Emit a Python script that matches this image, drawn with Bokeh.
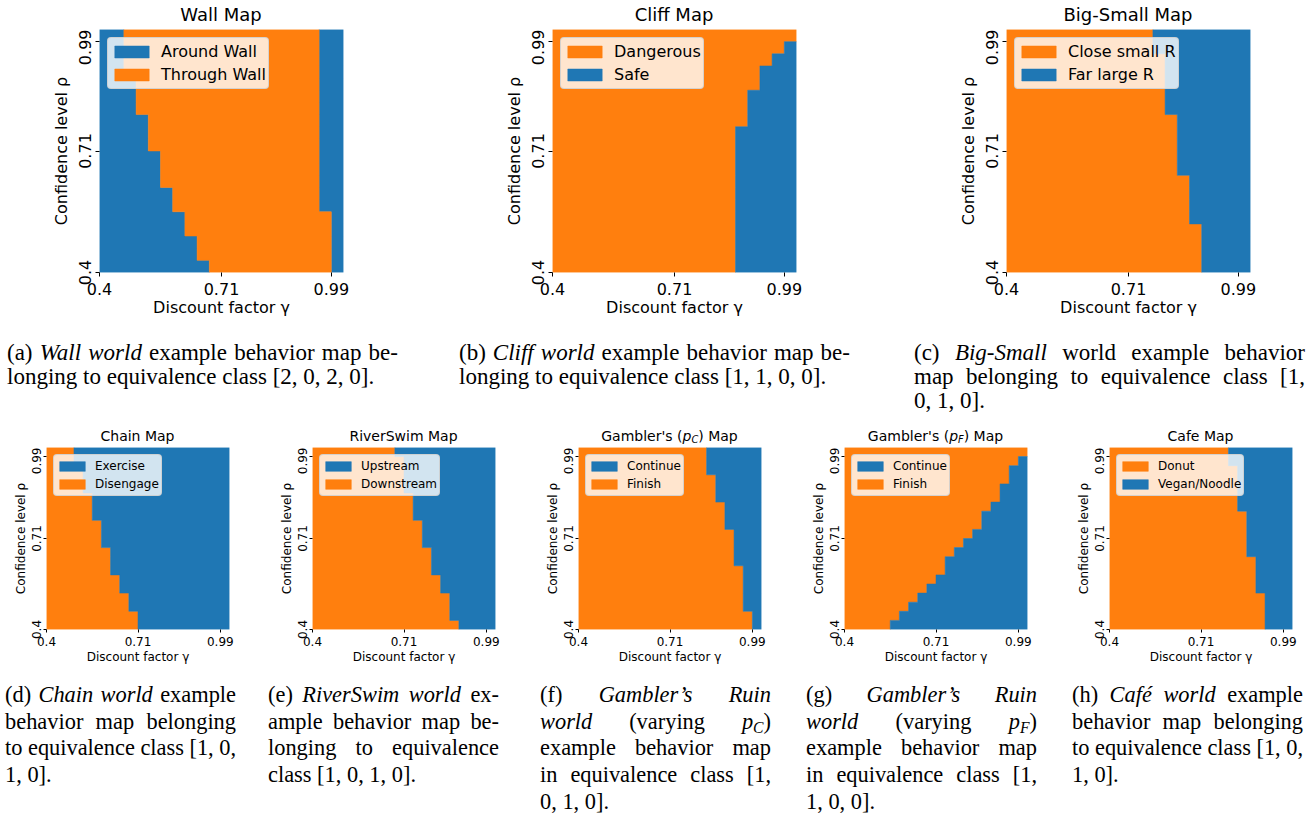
import re
from bokeh.plotting import figure
from bokeh.models import Range1d, FixedTicker, Legend, LegendItem, Div, Spacer, ColumnDataSource
from bokeh.layouts import column, row
from bokeh.embed import file_html
from bokeh.resources import INLINE

BLUE = "#1f77b4"
ORANGE = "#ff7f0e"
FONT = "DejaVu Sans"
SERIF = "Liberation Serif"

N_CELLS = 20
tick_index = [0, 10, 19]
tick_labels = ["0.4", "0.71", "0.99"]
x_label = "Discount factor γ"
y_label = "Confidence level ρ"

# per-row (bottom row first) column index where a behaviour region starts / ends
wall_around_left_end = [9, 8, 8, 7, 7, 6, 6, 5, 5, 5, 4, 4, 4, 3, 3, 3, 2, 2, 2, 2]
wall_around_right_start = [19, 19, 19, 19, 19, 18, 18, 18, 18, 18, 18, 18, 18, 18, 18, 18, 18, 18, 18, 18]
cliff_safe_start = [15, 15, 15, 15, 15, 15, 15, 15, 15, 15, 15, 15, 16, 16, 16, 17, 17, 18, 19, 20]
bigsmall_far_start = [16, 16, 16, 16, 15, 15, 15, 15, 14, 14, 14, 14, 14, 13, 13, 13, 13, 13, 12, 12]
chain_exercise_start = [10, 10, 9, 9, 8, 8, 7, 7, 7, 6, 6, 6, 5, 5, 5, 4, 4, 4, 3, 3]
river_upstream_start = [16, 15, 15, 15, 14, 14, 13, 13, 13, 12, 12, 12, 11, 11, 11, 10, 10, 10, 10, 9]
gpc_continue_start = [19, 19, 18, 18, 18, 18, 18, 17, 17, 17, 17, 16, 16, 16, 15, 15, 15, 14, 14, 14]
gpf_continue_start = [5, 6, 7, 8, 9, 10, 11, 11, 12, 13, 14, 15, 15, 16, 17, 17, 18, 18, 19, 20]
cafe_vegan_start = [17, 17, 17, 17, 16, 16, 16, 16, 15, 15, 15, 15, 15, 14, 14, 14, 14, 14, 13, 13]

ZEROS = [0] * N_CELLS
FULL = [N_CELLS] * N_CELLS


def staircase(starts, ends):
    """Outline of the cells [starts[r], ends[r]) of each row r (rows contiguous)."""
    rows = [r for r in range(N_CELLS) if ends[r] > starts[r]]
    xs, ys = [], []
    for r in rows:
        xs += [ends[r], ends[r]]
        ys += [r, r + 1]
    for r in reversed(rows):
        xs += [starts[r], starts[r]]
        ys += [r + 1, r]
    return xs, ys


def make_fig(fw, fh, bl, br, bb, fs, tick_len, xs1, xs2, ys1, ys2):
    p = figure(frame_width=fw, frame_height=fh, min_border_left=bl, min_border_right=br,
               min_border_top=0, min_border_bottom=bb, title_location=None,
               x_range=Range1d(0, N_CELLS), y_range=Range1d(0, N_CELLS),
               output_backend="svg", toolbar_location=None, tools="", margin=0)
    p.outline_line_color = None
    p.xgrid.visible = False
    p.ygrid.visible = False
    p.background_fill_color = "white"
    p.border_fill_color = "white"
    p.xaxis.axis_label = x_label
    p.yaxis.axis_label = y_label
    for ax in (p.xaxis[0], p.yaxis[0]):
        ax.ticker = FixedTicker(ticks=tick_index)
        ax.major_label_overrides = dict(zip(tick_index, tick_labels))
        ax.axis_line_color = None
        ax.major_tick_in = 0
        ax.major_tick_out = tick_len
        ax.major_tick_line_color = "black"
        ax.minor_tick_line_color = None
        ax.major_label_text_font = FONT
        ax.major_label_text_font_size = f"{fs}px"
        ax.major_label_text_color = "black"
        ax.axis_label_text_font = FONT
        ax.axis_label_text_font_size = f"{fs}px"
        ax.axis_label_text_font_style = "normal"
        ax.axis_label_text_color = "black"
    p.xaxis.major_label_standoff = xs1
    p.xaxis.axis_label_standoff = xs2
    p.yaxis.major_label_standoff = ys1
    p.yaxis.axis_label_standoff = ys2
    p.yaxis.major_label_orientation = "vertical"
    return p


def region(p, polys, color, label):
    src = ColumnDataSource(data=dict(xs=[xy[0] for xy in polys], ys=[xy[1] for xy in polys]))
    r = p.patches(xs="xs", ys="ys", source=src, fill_color=color, line_color=color, line_width=0.5)
    return LegendItem(label=label, renderers=[r])


def add_legend(p, items, fs, gw, gh, rh, standoff, margin):
    leg = Legend(items=items, location="top_left", margin=margin, padding=2, spacing=0,
                 glyph_width=gw, glyph_height=gh, label_height=rh, label_standoff=standoff,
                 label_text_font=FONT, label_text_font_size=f"{fs}px", label_text_color="black",
                 background_fill_color="white", background_fill_alpha=0.8,
                 border_line_color="#cccccc", border_line_alpha=0.8, border_line_width=1,
                 border_radius=4)
    p.add_layout(leg)


def top_fig(bl, br):
    return make_fig(244, 243, bl, br, 69, 16, 4, 6, 0, 5, 5)


def bottom_fig(bl, br):
    return make_fig(183, 182, bl, br, 53, 12, 3, 4, 1, 3, 1)


def top_legend(p, items):
    add_legend(p, items, 16, 43, 15, 23, 8, 8)


def bottom_legend(p, items):
    add_legend(p, items, 12, 32, 12, 18, 7, 7)


def title_div(html, fig_w, border_left, frame_w, fs, pad_top, height):
    inner = (f"<div style=\"margin-left:{border_left}px;width:{frame_w}px;text-align:center;"
             f"white-space:nowrap;font-family:'{FONT}';font-size:{fs}px;line-height:1;"
             f"padding-top:{pad_top}px;color:black\">{html}</div>")
    return Div(text=inner, width=fig_w, height=height, margin=0)


SUB = "<sub style=\"font-size:0.7em;line-height:0;vertical-align:-0.25em\"><i>{}</i></sub>"

# ---- top row -----------------------------------------------------------
TOP_B = [(99, 95), (114, 76), (134, 56)]

pa = top_fig(*TOP_B[0])
ia1 = region(pa, [staircase(ZEROS, wall_around_left_end), staircase(wall_around_right_start, FULL)], BLUE, "Around Wall")
ia2 = region(pa, [staircase(wall_around_left_end, wall_around_right_start)], ORANGE, "Through Wall")
top_legend(pa, [ia1, ia2])

pb = top_fig(*TOP_B[1])
ib1 = region(pb, [staircase(ZEROS, cliff_safe_start)], ORANGE, "Dangerous")
ib2 = region(pb, [staircase(cliff_safe_start, FULL)], BLUE, "Safe")
top_legend(pb, [ib1, ib2])

pc = top_fig(*TOP_B[2])
ic1 = region(pc, [staircase(ZEROS, bigsmall_far_start)], ORANGE, "Close small R")
ic2 = region(pc, [staircase(bigsmall_far_start, FULL)], BLUE, "Far large R")
top_legend(pc, [ic1, ic2])

top_titles = ["Wall Map", "Cliff Map", "Big-Small Map"]

# ---- bottom row --------------------------------------------------------
BOT_B = [(46, 37), (46, 31), (52, 25), (58, 19), (63, 14)]

pd_ = bottom_fig(*BOT_B[0])
id2 = region(pd_, [staircase(ZEROS, chain_exercise_start)], ORANGE, "Disengage")
id1 = region(pd_, [staircase(chain_exercise_start, FULL)], BLUE, "Exercise")
bottom_legend(pd_, [id1, id2])

pe = bottom_fig(*BOT_B[1])
ie2 = region(pe, [staircase(ZEROS, river_upstream_start)], ORANGE, "Downstream")
ie1 = region(pe, [staircase(river_upstream_start, FULL)], BLUE, "Upstream")
bottom_legend(pe, [ie1, ie2])

pf = bottom_fig(*BOT_B[2])
if2 = region(pf, [staircase(ZEROS, gpc_continue_start)], ORANGE, "Finish")
if1 = region(pf, [staircase(gpc_continue_start, FULL)], BLUE, "Continue")
bottom_legend(pf, [if1, if2])

pg = bottom_fig(*BOT_B[3])
ig2 = region(pg, [staircase(ZEROS, gpf_continue_start)], ORANGE, "Finish")
ig1 = region(pg, [staircase(gpf_continue_start, FULL)], BLUE, "Continue")
bottom_legend(pg, [ig1, ig2])

ph = bottom_fig(*BOT_B[4])
ih1 = region(ph, [staircase(ZEROS, cafe_vegan_start)], ORANGE, "Donut")
ih2 = region(ph, [staircase(cafe_vegan_start, FULL)], BLUE, "Vegan/Noodle")
bottom_legend(ph, [ih1, ih2])

bottom_titles = ["Chain Map", "RiverSwim Map",
                 "Gambler's (<i>p</i>" + SUB.format("C") + ") Map",
                 "Gambler's (<i>p</i>" + SUB.format("F") + ") Map",
                 "Cafe Map"]

# ---- captions ----------------------------------------------------------
cap_a = ["(a) <i>Wall world</i> example behavior map be-",
         "longing to equivalence class [2, 0, 2, 0]."]
cap_b = ["(b) <i>Cliff world</i> example behavior map be-",
         "longing to equivalence class [1, 1, 0, 0]."]
cap_c = ["(c) <i>Big-Small</i> world example behavior",
         "map belonging to equivalence class [1,",
         "0, 1, 0]."]
cap_d = ["(d) <i>Chain world</i> example",
         "behavior map belonging",
         "to equivalence class [1, 0,",
         "1, 0]."]
cap_e = ["(e) <i>RiverSwim world</i> ex-",
         "ample behavior map be-",
         "longing to equivalence",
         "class [1, 0, 1, 0]."]
cap_f = ["(f) <i>Gambler’s Ruin</i>",
         "<i>world</i> (varying <i>p</i>" + SUB.format("C") + ")",
         "example behavior map",
         "in equivalence class [1,",
         "0, 1, 0]."]
cap_g = ["(g) <i>Gambler’s Ruin</i>",
         "<i>world</i> (varying <i>p</i>" + SUB.format("F") + ")",
         "example behavior map",
         "in equivalence class [1,",
         "1, 0, 0]."]
cap_h = ["(h) <i>Café world</i> example",
         "behavior map belonging",
         "to equivalence class [1, 0,",
         "1, 0]."]


def split_words(line):
    # split on spaces that are outside of html tags, keeping italic runs per word
    words = re.split(r" (?![^<]*>)", line)
    out = []
    italic = False
    for w in words:
        starts = w.startswith("<i>") and "</i>" not in w
        ends = w.endswith("</i>") and "<i>" not in w
        if italic and not w.startswith("<i>"):
            w = "<i>" + w
        if italic and not w.endswith("</i>"):
            w = w + "</i>"
        if starts:
            w = w + "</i>"
            italic = True
        if ends:
            italic = False
        out.append(w)
    return out


def caption(lines, width, height, font_px, line_h):
    parts = []
    for i, line in enumerate(lines):
        base = f"height:{line_h}px;line-height:{line_h}px;white-space:nowrap;"
        if i < len(lines) - 1:
            inner = "".join(f"<span>{w}</span>" for w in split_words(line))
            parts.append(f"<div style=\"display:flex;justify-content:space-between;{base}\">{inner}</div>")
        else:
            parts.append(f"<div style=\"{base}\">{line}</div>")
    html = (f"<div style=\"font-family:'{SERIF}';font-size:{font_px}px;color:black;width:{width}px;\">"
            + "".join(parts) + "</div>")
    return Div(text=html, width=width, height=height, margin=0)


def sp(w, h):
    return Spacer(width=w, height=h, margin=0)


top_title_row = row(*[title_div(t, b[0] + 244 + b[1], b[0], 244, 18, 5.5, 29)
                      for t, b in zip(top_titles, TOP_B)], spacing=0)
bottom_title_row = row(*[title_div(t, b[0] + 183 + b[1], b[0], 183, 14, 10.8, 29)
                         for t, b in zip(bottom_titles, BOT_B)], spacing=0)

top_caps = row(sp(7, 77), caption(cap_a, 391, 77, 23, 24), sp(61, 77),
               caption(cap_b, 391, 77, 23, 24), sp(64, 77),
               caption(cap_c, 391, 77, 23, 24), spacing=0)

bottom_caps = row(sp(5, 134), caption(cap_d, 231, 134, 22.4, 26.7), sp(32, 134),
                  caption(cap_e, 231, 134, 22.4, 26.7), sp(41, 134),
                  caption(cap_f, 231, 134, 22.4, 26.7), sp(35, 134),
                  caption(cap_g, 231, 134, 22.4, 26.7), sp(35, 134),
                  caption(cap_h, 231, 134, 22.4, 26.7), spacing=0)

layout = column(top_title_row, row(pa, pb, pc, spacing=0), top_caps,
                bottom_title_row, row(pd_, pe, pf, pg, ph, spacing=0), bottom_caps, spacing=0)

open("out.html", "w").write(file_html(layout, INLINE))
